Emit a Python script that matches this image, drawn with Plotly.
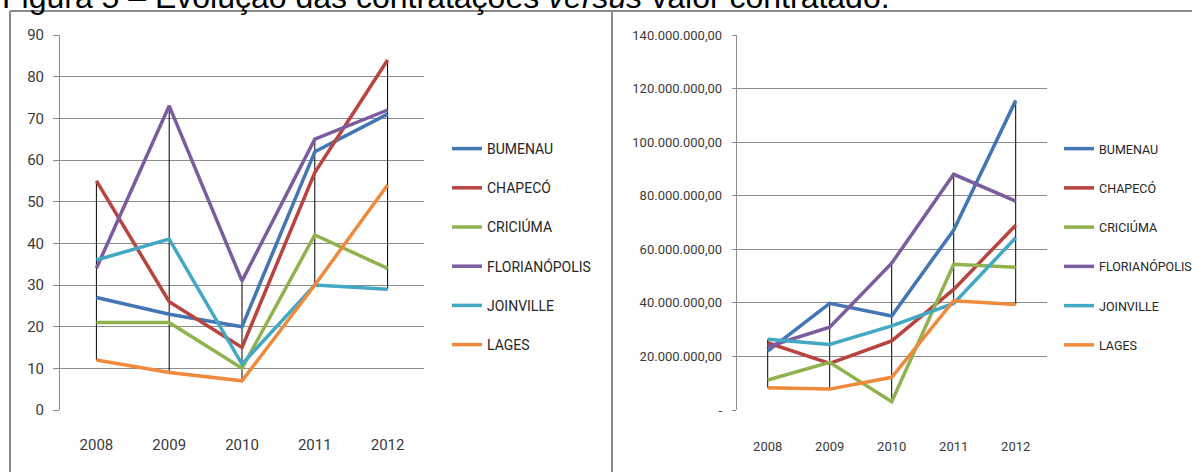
import plotly.graph_objects as go

years = ["2008", "2009", "2010", "2011", "2012"]
cities = ["BUMENAU", "CHAPECÓ", "CRICIÚMA", "FLORIANÓPOLIS", "JOINVILLE", "LAGES"]

# Left chart: number of contracts
contracts = {
    "BUMENAU":       [27, 23, 20, 62, 71],
    "CHAPECÓ":       [55, 26, 15, 57, 84],
    "CRICIÚMA":      [21, 21, 10, 42, 34],
    "FLORIANÓPOLIS": [34, 73, 31, 65, 72],
    "JOINVILLE":     [36, 41, 11, 30, 29],
    "LAGES":         [12, 9, 7, 30, 54],
}

# Right chart: contracted value (R$)
values = {
    "BUMENAU":       [22.0e6, 39.8e6, 35.1e6, 67.2e6, 115.5e6],
    "CHAPECÓ":       [25.1e6, 17.4e6, 25.8e6, 45.0e6, 69.0e6],
    "CRICIÚMA":      [11.2e6, 17.8e6, 3.1e6, 54.4e6, 53.3e6],
    "FLORIANÓPOLIS": [23.6e6, 30.9e6, 54.8e6, 88.0e6, 78.0e6],
    "JOINVILLE":     [26.4e6, 24.5e6, 31.4e6, 39.8e6, 64.3e6],
    "LAGES":         [8.3e6, 7.8e6, 12.2e6, 40.8e6, 39.4e6],
}

left_ticks = [0, 10, 20, 30, 40, 50, 60, 70, 80, 90]
right_ticks = [0, 20e6, 40e6, 60e6, 80e6, 100e6, 120e6, 140e6]
right_ticktext = ["-", "20.000.000,00", "40.000.000,00", "60.000.000,00",
                  "80.000.000,00", "100.000.000,00", "120.000.000,00", "140.000.000,00"]

colors = {
    "BUMENAU": "#4475B4",
    "CHAPECÓ": "#B9443F",
    "CRICIÚMA": "#8FB24E",
    "FLORIANÓPOLIS": "#7A5C9F",
    "JOINVILLE": "#43A8C3",
    "LAGES": "#F08A3A",
}

W, H = 1192, 472
FONT = "Roboto, Liberation Sans Narrow, sans-serif"
TXT = "#3a3a3a"

def px_x(p):
    return p / W

def px_y(p):
    return 1 - p / H

fig = go.Figure()

def hilo(data):
    xs, ys = [], []
    for i, yr in enumerate(years):
        col = [data[c][i] for c in cities]
        xs += [yr, yr, None]
        ys += [min(col), max(col), None]
    return xs, ys

for data, xa, ya, lg in [(contracts, "x", "y", "legend"), (values, "x2", "y2", "legend2")]:
    hx, hy = hilo(data)
    fig.add_trace(go.Scatter(x=hx, y=hy, mode="lines", line=dict(color="black", width=1),
                             xaxis=xa, yaxis=ya, showlegend=False, hoverinfo="skip"))
    for c in cities:
        fig.add_trace(go.Scatter(x=years, y=data[c], name=c, mode="lines",
                                 line=dict(color=colors[c], width=3.5),
                                 xaxis=xa, yaxis=ya, legend=lg, legendgroup=c + lg))

grid = "#8c8c8c"
fig.update_layout(
    width=W, height=H,
    margin=dict(l=0, r=0, t=0, b=0, autoexpand=False),
    paper_bgcolor="white", plot_bgcolor="white",
    font=dict(family=FONT, color=TXT),
    xaxis=dict(domain=[px_x(60), px_x(424)], type="category", range=[-0.5, 4.5],
               showgrid=False, showline=False, ticks="", zeroline=False, anchor="y",
               automargin=False,
               tickfont=dict(size=15, family=FONT, color=TXT), ticklabelstandoff=24),
    yaxis=dict(domain=[px_y(410), px_y(35)], range=[0, 90], tickvals=left_ticks,
               showgrid=True, gridcolor=grid, gridwidth=1, zeroline=False, anchor="x",
               automargin=False,
               showline=True, linecolor=grid, linewidth=1,
               ticks="outside", ticklen=6, tickcolor=grid,
               tickfont=dict(size=15, family=FONT, color=TXT), ticklabelstandoff=6),
    xaxis2=dict(domain=[px_x(736.7), px_x(1046.7)], type="category", range=[-0.5, 4.5],
                showgrid=False, showline=False, ticks="", zeroline=False, anchor="y2",
                automargin=False,
                tickfont=dict(size=13, family=FONT, color=TXT), ticklabelstandoff=27),
    yaxis2=dict(domain=[px_y(410), px_y(35)], range=[0, 140e6], tickvals=right_ticks,
                ticktext=right_ticktext, anchor="x2", automargin=False,
                showgrid=True, gridcolor=grid, gridwidth=1, zeroline=False,
                showline=True, linecolor=grid, linewidth=1,
                ticks="outside", ticklen=4, tickcolor=grid,
                tickfont=dict(size=13, family=FONT, color=TXT), ticklabelstandoff=7),
    legend=dict(x=px_x(447), y=px_y(133), xanchor="left", yanchor="top",
                font=dict(size=14, family=FONT, color="#262626"),
                traceorder="grouped", tracegroupgap=18, bgcolor="rgba(0,0,0,0)"),
    legend2=dict(x=px_x(1059), y=px_y(134), xanchor="left", yanchor="top",
                 font=dict(size=12.5, family=FONT, color="#262626"),
                 traceorder="grouped", tracegroupgap=20, bgcolor="rgba(0,0,0,0)"),
    showlegend=True,
)

# Panel borders
border = dict(color="#8a8a8a", width=2)
fig.add_shape(type="line", xref="paper", yref="paper", x0=px_x(10), x1=1.0, y0=px_y(11), y1=px_y(11), line=border)
fig.add_shape(type="line", xref="paper", yref="paper", x0=px_x(10), x1=px_x(10), y0=px_y(11), y1=0, line=border)
fig.add_shape(type="line", xref="paper", yref="paper", x0=px_x(612), x1=px_x(612), y0=px_y(11), y1=0, line=border)

# Cropped figure caption at top
fig.add_annotation(xref="paper", yref="paper", x=0, y=px_y(17), xanchor="left", yanchor="bottom",
                   text="Figura 5 – Evolução das contratações <i>versus</i> valor contratado.",
                   showarrow=False, font=dict(family="Liberation Sans, Arial, sans-serif", size=32, color="#000000"))

fig.write_html("out.html", config={"displayModeBar": False},
               post_script="document.body.style.margin='0';document.body.style.overflow='hidden';")
